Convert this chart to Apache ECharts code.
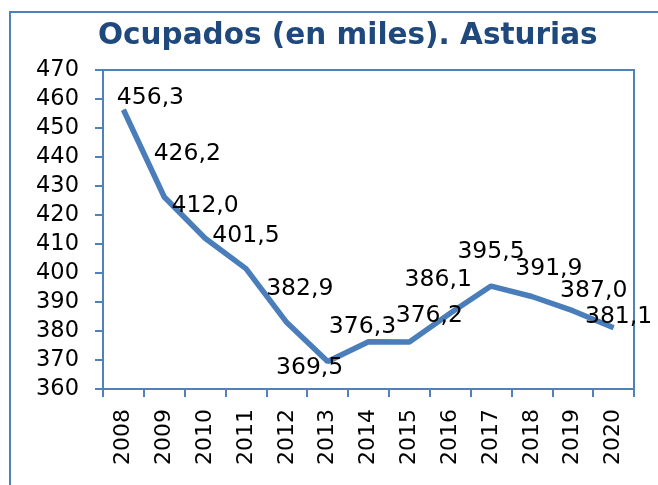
<!DOCTYPE html>
<html>
<head>
<meta charset="utf-8">
<script src="https://cdn.jsdelivr.net/npm/echarts@6/dist/echarts.min.js"></script>
<style>
  html, body { margin: 0; padding: 0; background: #fff; }
  #chart { width: 658px; height: 485px; }
</style>
</head>
<body>
<div id="chart"></div>
<script>
var years = ['2008', '2009', '2010', '2011', '2012', '2013', '2014', '2015', '2016', '2017', '2018', '2019', '2020'];
var ocupados = [456.3, 426.2, 412.0, 401.5, 382.9, 369.5, 376.3, 376.2, 386.1, 395.5, 391.9, 387.0, 381.1];
var yTicks = [360, 470, 10]; // min, max, step

// label offsets (pixels, from the point) to mimic the hand-placed Excel labels
var labelOffsets = [
    [27, -12], [23, -43], [0, -32], [0, -33], [13, -34], [-18, 6], [-6, -15],
    [20, -26], [-12, -33], [0, -34], [17, -28], [21, -20], [5, -11]
];

var blue = '#4F81BD';
var fontFam = 'Verdana, "DejaVu Sans", sans-serif';

var chart = echarts.init(document.getElementById('chart'));

var seriesData = [];
for (var i in ocupados) {
    seriesData.push({
        value: ocupados[i],
        label: { offset: labelOffsets[i] }
    });
}

var option = {
    animation: false,
    graphic: [{
        type: 'rect',
        shape: { x: 10, y: 12, width: 700, height: 520 },
        style: { fill: 'none', stroke: blue, lineWidth: 2 },
        silent: true
    }],
    title: {
        text: 'Ocupados (en miles). Asturias',
        left: 93,
        top: 16,
        textStyle: {
            fontFamily: fontFam,
            fontWeight: 'bold',
            fontSize: 29.5,
            color: '#1F497D'
        }
    },
    grid: {
        left: 103,
        top: 70,
        right: 24,
        bottom: 96,
        show: true,
        borderColor: blue,
        borderWidth: 2,
        backgroundColor: 'transparent'
    },
    xAxis: {
        type: 'category',
        data: years,
        boundaryGap: true,
        axisLine: { lineStyle: { color: blue, width: 2 } },
        axisTick: { show: true, interval: 0, length: 8, lineStyle: { color: blue, width: 2 } },
        axisLabel: {
            interval: 0,
            rotate: 90,
            margin: 20,
            color: '#000',
            fontFamily: fontFam,
            fontSize: 22
        },
        splitLine: { show: false }
    },
    yAxis: {
        type: 'value',
        min: yTicks[0],
        max: yTicks[1],
        interval: yTicks[2],
        axisLine: { show: true, lineStyle: { color: blue, width: 2 } },
        axisTick: { show: true, length: 8, lineStyle: { color: blue, width: 2 } },
        axisLabel: {
            margin: 24,
            color: '#000',
            fontFamily: fontFam,
            fontSize: 22.5
        },
        splitLine: { show: false }
    },
    series: [{
        type: 'line',
        data: seriesData,
        symbol: 'circle',
        symbolSize: 1,
        showSymbol: true,
        lineStyle: { color: '#4A7EBB', width: 5.5 },
        itemStyle: { color: '#4A7EBB' },
        label: {
            show: true,
            position: 'inside',
            align: 'center',
            verticalAlign: 'middle',
            color: '#000',
            fontFamily: fontFam,
            fontSize: 23.5,
            formatter: function (p) {
                return p.value.toFixed(1).replace('.', ',');
            }
        },
        z: 3
    }]
};

chart.setOption(option);
</script>
</body>
</html>
